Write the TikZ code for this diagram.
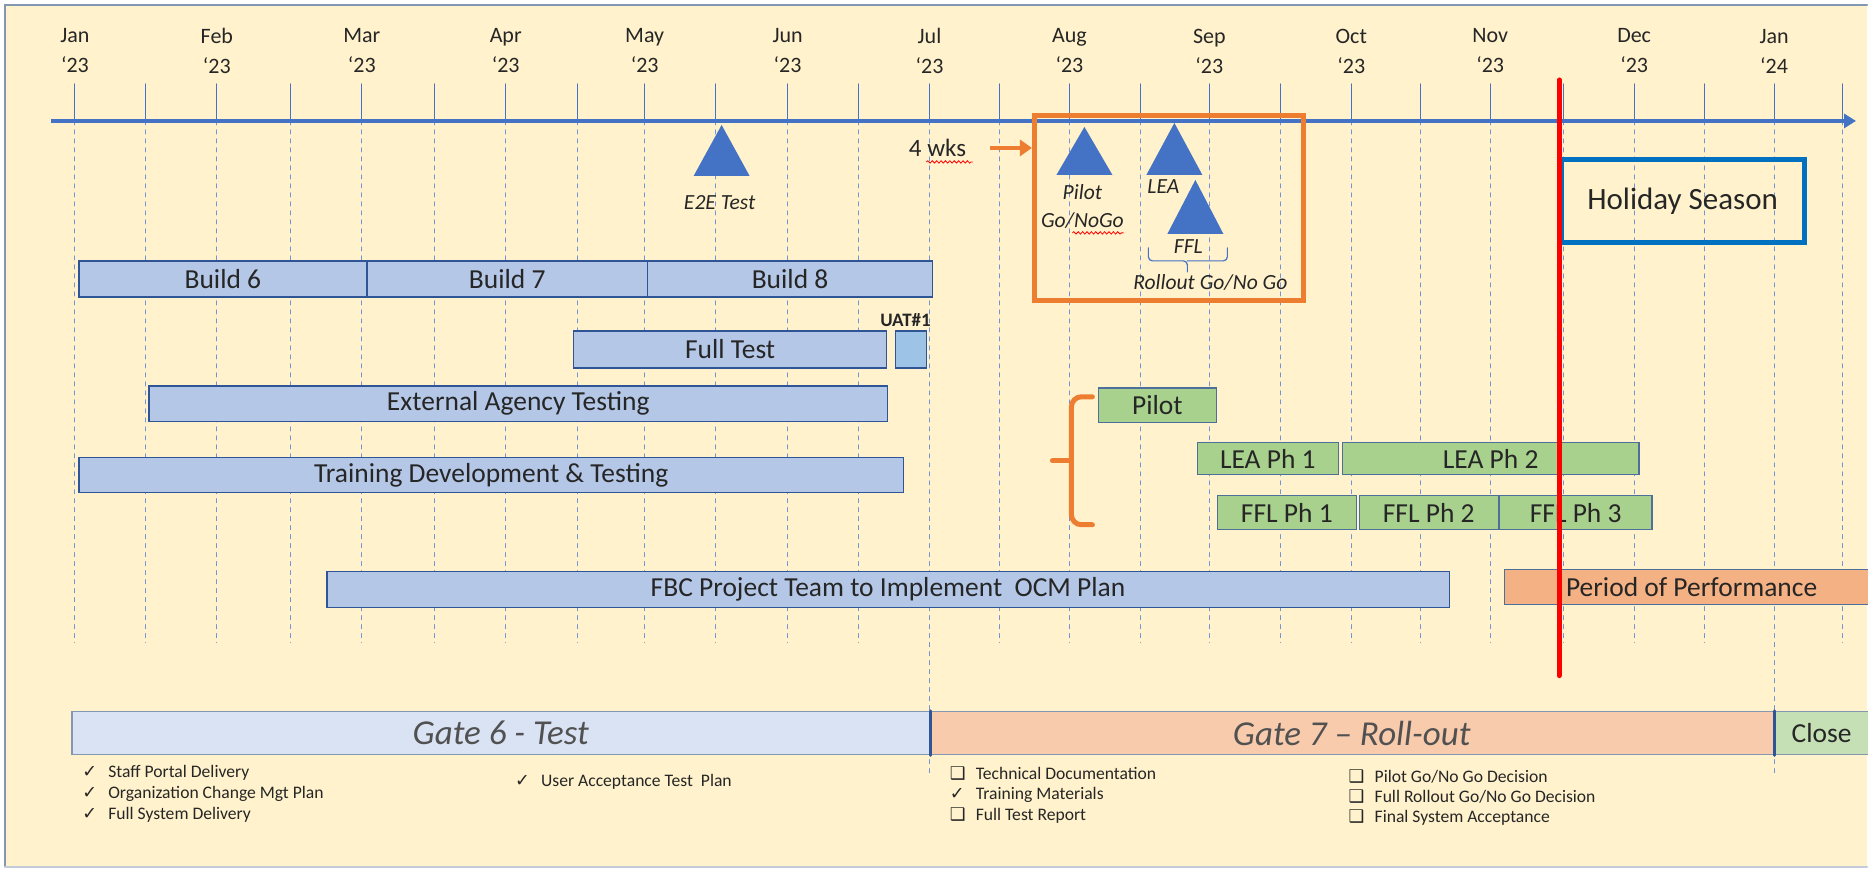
\documentclass[tikz,border=0pt]{standalone}
\usepackage{fontspec}
\setmainfont{Carlito}
\newfontfamily\symfont{DejaVu Sans}
\usepackage{tikz}
\usetikzlibrary{arrows.meta,decorations.pathmorphing}
\usepackage{xcolor}
\definecolor{cream}{HTML}{FFF2CC}
\definecolor{axisblue}{HTML}{4472C4}
\definecolor{gridblue}{HTML}{6F95D6}
\definecolor{barblue}{HTML}{B4C7E7}
\definecolor{barline}{HTML}{2F5597}
\definecolor{uatblue}{HTML}{9DC3E6}
\definecolor{phgreen}{HTML}{A9D18E}
\definecolor{phline}{HTML}{4D6F99}
\definecolor{popsalmon}{HTML}{F4B183}
\definecolor{rollorange}{HTML}{ED7D31}
\definecolor{holblue}{HTML}{0070C0}
\definecolor{gatesixfill}{HTML}{DAE3F3}
\definecolor{gatesevenfill}{HTML}{F8CBAD}
\definecolor{closefill}{HTML}{C5E0B4}
\definecolor{ink}{HTML}{262626}
\definecolor{framegray}{HTML}{8497B0}
\newcommand{\chk}{\makebox[13pt][l]{\symfont ✓}}
\newcommand{\sqbox}{\makebox[13pt][l]{\symfont ❑}}

\begin{document}
\begin{tikzpicture}[x=0.5pt,y=-0.5pt,line cap=round,
  bar/.style={draw=barline,fill=barblue,line width=0.7pt,inner sep=0pt,text=ink,font=\fontsize{13.75}{16}\selectfont},
  phase/.style={bar,draw=phline,fill=phgreen},
  gate/.style={draw=framegray,line width=0.7pt,inner sep=0pt,minimum height=21.5pt,text=ink!80,font=\fontsize{17.5}{20}\selectfont\itshape},
  month/.style={align=center,text=ink,inner sep=0pt,font=\fontsize{11}{15}\selectfont},
  mlabel/.style={align=center,text=ink,inner sep=1pt,font=\fontsize{10.8}{14}\selectfont\itshape},
  milestone/.style={fill=axisblue},
  item/.style={anchor=west,inner sep=0pt,text=ink,font=\fontsize{8.8}{10}\selectfont},
  monthtick/.style={draw=axisblue,line width=0.5pt},
  griddash/.style={draw=gridblue,line width=0.5pt,dash pattern=on 2pt off 2.5pt},
  squiggle/.style={draw=red,line width=0.4pt,decorate,decoration={snake,amplitude=0.6pt,segment length=2.2pt}}]
\fill[white] (0,0) rectangle (1868,869);
\fill[cream] (5,5) rectangle (1868,867);
\draw[framegray,line width=1pt] (1868,5) -- (5,5) -- (5,867);
\draw[framegray!50,line width=1pt] (5,867) -- (1868,867);
\useasboundingbox (0,0) rectangle (1868,869);
\foreach \x in {75,146,217,291,362,435,506,578,645,716,788,859,930,1000,1070,1141,1210,1281,1352,1421,1491,1564,1635,1705,1775,1843}{
  \draw[monthtick] (\x,84) -- (\x,121);
  \draw[griddash] (\x,121) -- (\x,643);
}
\draw[griddash] (930,643) -- (930,776);
\draw[griddash] (1775,643) -- (1775,776);
\foreach \x/\m/\yr in {75/Jan/23,217/Feb/23,362/Mar/23,506/Apr/23,645/May/23,788/Jun/23,930/Jul/23,1070/Aug/23,1210/Sep/23,1352/Oct/23,1491/Nov/23,1635/Dec/23,1775/Jan/24}
  \node[month] (m\m\yr) at (\x,51) {\m\\‘\yr};
\draw[axisblue,line width=2pt,line cap=butt,-{Triangle[length=6pt,width=7pt]}] (51,121) -- (1857,121);
\node[bar,minimum width=144pt,minimum height=18pt] (build6) at (223,279) {Build 6};
\node[bar,minimum width=140.5pt,minimum height=18pt] (build7) at (507.5,279) {Build 7};
\node[bar,minimum width=142.5pt,minimum height=18pt] (build8) at (790.5,279) {Build 8};
\node[bar,minimum width=156.5pt,minimum height=18.5pt] (fulltest) at (730.5,349.5) {Full Test};
\node[bar,fill=uatblue,minimum width=15.5pt,minimum height=18.5pt] (uat) at (911.5,349.5) {};
\node[inner sep=0pt,text=ink,font=\fontsize{9.5}{11}\selectfont\bfseries] (uatlbl) at (906,320) {UAT\#1};
\node[bar,minimum width=369.5pt,minimum height=18pt] (extagency) at (518.5,404) {External Agency Testing};
\node[bar,minimum width=412.5pt,minimum height=17.5pt] (training) at (491.5,475.5) {Training Development \& Testing};
\node[bar,minimum width=561.5pt,minimum height=18pt] (ocm) at (888.5,590) {FBC Project Team to Implement\ \ OCM Plan};
\node[phase,minimum width=59pt,minimum height=17.5pt] (pilot) at (1158,405.5) {Pilot};
\node[phase,minimum width=70.5pt,minimum height=16pt] (leaone) at (1268.5,459) {LEA Ph 1};
\node[phase,minimum width=148.5pt,minimum height=16pt] (leatwo) at (1491.5,459) {LEA Ph 2};
\node[phase,minimum width=69.5pt,minimum height=17pt] (fflone) at (1287.5,513) {FFL Ph 1};
\node[phase,minimum width=69.5pt,minimum height=17pt] (ffltwo) at (1429.5,513) {FFL Ph 2};
\node[phase,minimum width=76.5pt,minimum height=17pt] (fflthree) at (1576.5,513) {FFL Ph 3};
\node[bar,draw=phline,fill=popsalmon,minimum width=187.5pt,minimum height=17.5pt] (pop) at (1692.5,587.5) {Period of Performance};
\draw[rollorange,line width=2.5pt,rounded corners=5pt] (1093,397) -| (1072,525) -- (1093,525);
\draw[rollorange,line width=2.5pt] (1053,461) -- (1072,461);
\node[draw=rollorange,line width=2.5pt,inner sep=0pt,minimum width=134.5pt,minimum height=92.5pt] (gobox) at (1169.5,208.5) {};
\node[text=ink,inner sep=1pt,font=\fontsize{12.5}{14}\selectfont] (wks) at (938,148) {4 wks};
\draw[squiggle] (927,162) -- (973,162);
\draw[rollorange,line width=2pt,line cap=butt,-{Triangle[length=6pt,width=8pt]}] ([xshift=11pt]wks.east) -- (wks.east -| gobox.west);
\fill[milestone] (722,125) -- (750,176) -- (694,176) -- cycle;
\node[mlabel] (e2e) at (720,203) {E2E Test};
\fill[milestone] (1085,127) -- (1113,175) -- (1057,175) -- cycle;
\node[mlabel] (pilotgo) at (1083,207) {Pilot\\Go/NoGo};
\draw[squiggle] (1073,233) -- (1124,233);
\fill[milestone] (1175,123) -- (1203,175) -- (1147,175) -- cycle;
\node[mlabel] (lea) at (1164,187) {LEA};
\fill[milestone] (1196,180) -- (1224,234) -- (1168,234) -- cycle;
\node[mlabel] (ffl) at (1189,247) {FFL};
\draw[axisblue,line width=0.6pt,rounded corners=2pt] (1149,248) |- (1188,261) -- (1188,272);
\draw[axisblue,line width=0.6pt,rounded corners=2pt] (1188,261) -| (1228,248);
\node[mlabel] (rollout) at (1211,283) {Rollout Go/No Go};
\node[draw=holblue,line width=2.5pt,inner sep=0pt,minimum width=121.5pt,minimum height=41.5pt,text=ink,font=\fontsize{15.5}{18}\selectfont] (holiday) at (1683.5,201.5) {Holiday Season};
\draw[red,line width=2.5pt] (1560,80) -- (1560,676);
\node[gate,fill=gatesixfill,minimum width=429pt] (gatesix) at (501,733.5) {Gate 6 - Test};
\node[gate,fill=gatesevenfill,minimum width=422.5pt] (gateseven) at (1352.5,733.5) {Gate 7 – Roll-out};
\node[gate,fill=closefill,minimum width=47.5pt,text=ink,font=\fontsize{13.75}{16}\selectfont] (closegate) at (1822.5,733.5) {Close};
\draw[barline,line width=1.5pt] (gatesix.north east) -- (gatesix.south east);
\draw[barline,line width=1.5pt] (gateseven.north east) -- (gateseven.south east);
\node[item] (gsixa) at (82,773) {\chk Staff Portal Delivery};
\node[item] (gsixb) at (82,794) {\chk Organization Change Mgt Plan};
\node[item] (gsixc) at (82,815) {\chk Full System Delivery};
\node[item] (gsixd) at (515,782) {\chk User Acceptance Test\ \ Plan};
\node[item] (gsevena) at (950,774) {\sqbox Technical Documentation};
\node[item] (gsevenb) at (950,795) {\chk Training Materials};
\node[item] (gsevenc) at (950,816) {\sqbox Full Test Report};
\node[item] (gsevend) at (1349,777) {\sqbox Pilot Go/No Go Decision};
\node[item] (gsevene) at (1349,797) {\sqbox Full Rollout Go/No Go Decision};
\node[item] (gsevenf) at (1349,818) {\sqbox Final System Acceptance};
\end{tikzpicture}
\end{document}
